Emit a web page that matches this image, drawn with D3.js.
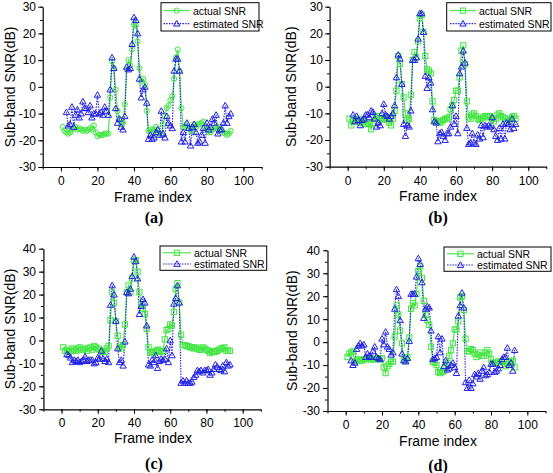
<!DOCTYPE html>
<html><head><meta charset="utf-8">
<script src="https://cdn.jsdelivr.net/npm/d3@7"></script>
<style>body{margin:0;background:#fff}svg{display:block}</style>
</head><body>
<script>
const frames = [1,2,3,4,5,6,7,8,9,10,11,12,13,14,15,16,17,18,19,20,21,22,23,24,25,26,27,28,29,30,31,32,33,34,35,36,37,38,39,40,41,42,43,44,45,46,47,48,49,50,51,52,53,54,55,56,57,58,59,60,61,62,63,64,65,66,67,68,69,70,71,72,73,74,75,76,77,78,79,80,81,82,83,84,85,86,87,88,89,90,91,92,93];
const seriesNames = ["actual SNR", "estimated SNR"];
const xTicks = [0,20,40,60,80,100];
const yTicksAB = [-30,-20,-10,0,10,20,30];
const yTicksCD = [-30,-20,-10,0,10,20,30,40];
const panelLabels = ["(a)","(b)","(c)","(d)"];

const actualA = [-15,-16.5,-17,-17.5,-17,-16,-15.5,-15,-16,-15.5, -16,-16.5,-16,-16.5,-16,-15.5,-16,-14.5,-17,-18.5, -18,-18,-18,-17.5,-17.5,-17.5,-4,9.5,7,-1, -9,-12,-14,-13.5,-6.5,6.5,10,8,14,23.5, 23,17,7,2,3,1,-9,-16.5,-16,-17, -16,-15,-17,-17.5,-18,-14,-11,-8,-7,-5, -3.5,3,11,14,6,-8,-15,-15,-14,-15.5, -16,-17,-14,-15,-14,-14,-13.5,-13,-15,-16, -17,-17,-16,-15.5,-15,-16,-15,-16,-17,-17.5, -18,-17.5,-16.5];
const estA = [null,null,-9.5,-14.5,-14,-7.5,-15,-10.5,-8.5,-11.5, -10,-5.5,-8,-8,-9.5,-7,-11.5,-10,-10,-3, -10,-9.5,-10.5,-7.5,-9,-10.5,-1,11,7,-8, -13.5,-12,-15,-16,-11,7.5,6.5,7,16,26, 25,20,3,-4,-1,0,-6,-19.5,-18,-19.5, -19,-17,-16,-18,-9,-17.5,-19,-11,-13.5,-14.5, -15.5,6,10.5,10.5,6,-20.5,-17,-20.5,-13.5,-15.5, -22,-15,-14,-17,-21,-20.5,-18,-15.5,-21,-13.5, -16,-15,-12,-13.5,-10.5,-17.5,-16,-16,-13.5,-7, -13.5,-11,-10];
const actualB = [-12,-14.5,-13,-13,-12.5,-12,-13.5,-13,-13,-14, -13.5,-14,-16,-13.5,-11.5,-11,-11,-12,-12,-12.5, -11.5,-12,-13.5,-14.5,-12,-9,-1.5,11.5,8.5,1, -4,-10,-12.5,-12,-3,10,13,11,17,25.5, 27,20.5,11.5,6.5,6,5,-5.5,-12.5,-13,-13, -13.5,-13,-12.5,-12,-12,-11.5,-8.5,-7,-5,-1.5, -1.5,3.5,13.5,15.5,8.5,-5.5,-11.5,-12,-10.5,-10, -11,-12,-12.5,-12,-11.5,-11,-11,-11.5,-11,-12, -13,-12,-10.5,-10,-11,-11.5,-12,-13,-12,-12.5, -11.5,-11,-12];
const estB = [null,null,-10.5,-13,-11,-12.5,-14.5,-12.5,-12,-10.5, -10.5,-11.5,-9,-9.5,-12,-15,-13.5,-14.5,-10,-6.5, -10.5,-11,-12,-11,-10,-7,3.5,12,10.5,1, -14,-18.5,-14.5,-15,-9,10,10,11,18,27.5, 27.5,20.5,4,-0.5,3.5,1.5,-8.5,-13,-13.5,-20.5, -17.5,-17,-18.5,-20,-17.5,-17.5,-15,-7,-14,-11, -17.5,5,7.5,13.5,9,-15.5,-21.5,-21,-17.5,-21, -21.5,-18,-19.5,-14.5,-19,-14.5,-15,-14.5,-15,-11.5, -16,-18.5,-20,-15.5,-19.5,-14,-19.5,-13.5,-14,-16, -12,-15.5,-14];
const actualC = [-3,-4.5,-4,-5,-4.5,-3.5,-4,-4.5,-3.5,-3, -4,-4,-3.5,-4.5,-3.5,-3,-4,-2.5,-3,-3.5, -4,-5,-4.5,-5,-3.5,-2.5,9,21,16.5,8.5, 2,-3,-3.5,-2,7,21,24,21,27,34.5, 35,30,21,16,14,11.5,5,-3,-5,-5.5, -5,-4.5,-4,-4.5,-5,-4.5,0.5,4.5,5,7, 6.5,12.5,22.5,25,16.5,2.5,-2,-2,-2.5,-2.5, -3,-3,-3.5,-3,-3.5,-4,-4,-3,-3.5,-4, -4.5,-5.5,-5,-4.5,-5,-4.5,-4,-3.5,-3.5,-3, -4.5,-4.5,-4.5];
const estC = [null,null,-6,-6.5,-7.5,-9.5,-8.5,-9,-8.5,-9.5, -9,-8.5,-7,-9,-8.5,-8.5,-8.5,-10,-9.5,-7.5, -8,-4.5,-8,-9,-8,-9.5,15.5,24,20,8.5, -3.5,-9.5,-8.5,-11,-0.5,21,20.5,22.5,28,36.5, 34.5,27,11.5,15,18,16.5,6.5,-10.5,-11,-8.5, -9.5,-6.5,-12,-9,-8,-8.5,-8,-3.5,-9.5,0, -6.5,16,18.5,24,16.5,-18.5,-17.5,-18.5,-17.5,-18.5, -18.5,-18,-16,-15,-13,-13.5,-13,-14,-13,-13, -12.5,-15,-14,-12.5,-10.5,-11.5,-12.5,-13,-11,-13.5, -9.5,-11,-10.5];
const actualD = [-6.5,-5,-4.5,-4,-8.5,-8,-7.5,-8,-8,-7.5, -7.5,-7,-7,-7.5,-7.5,-7.5,-7,-7.5,-7,-7, -11,-13.5,-10.5,-9.5,-8.5,-8.5,2.5,16,12,5, -0.5,-7.5,-8,-6.5,2,14.5,17,16,21,31, 33,28,18,12,9.5,7.5,-2,-8.5,-9,-10, -13,-13.5,-13,-12.5,-11,-9,-6,-3.5,-0.5,5.5, 5.5,9,19.5,20,14,1.5,-4,-4,-3,-3.5, -5,-6.5,-5.5,-4.5,-6,-6,-4.5,-3.5,-5,-7.5, -9,-9.5,-9,-8.5,-8.5,-8.5,-8.5,-10.5,-9.5,-8.5, -8.5,-8,-11];
const estD = [null,null,-8,-10,-9,-3,-1.5,-0.5,-1.5,-1, -6.5,-5,-6,-6.5,-4,-2,-6.5,-7,-7.5,1.5, -1,4.5,-2,-3,-5.5,-4.5,14.5,23,20,9.5, -5,-8,-8.5,-7,0.5,21,21,21,28.5,36.5, 34,26,10.5,14.5,15.5,15,5,-7.5,-7,-6.5, 2.5,-4.5,1.5,-10.5,-8,-12,-11.5,-10,-9,-11, -13.5,11.5,16,21.5,15,-17.5,-20,-16.5,-20,-18, -14,-15,-13.5,-16,-12.5,-11,-14.5,-14,-13,-9.5, -9.5,-13,-12.5,-11.5,-10,-7.5,-6.5,-6.5,-2.5,-10, -9,-12.5,-3.5];

const GREEN = "#3ee63e", BLUE = "#1f1fe6";
const W = 553, H = 473;
const svg = d3.select("body").append("svg").attr("width", W).attr("height", H)
  .style("font-family", "'Liberation Sans', Arial, sans-serif");

const panels = [
  {actual: actualA, est: estA, yDom:[-30,30], yTicks: yTicksAB, x0:42.7, x1:261.7, yTop:6.7, yBot:167, marker:"circle",
   leg:{x:161,y:2.7,w:98,h:28.3, lx0:163.5, lx1:190, tx:193}, titleX:10, lblRight:36, fx:153, fy:197, px:154, py:217, label:panelLabels[0]},
  {actual: actualB, est: estB, yDom:[-30,30], yTicks: yTicksAB, x0:329.6, x1:546.3, yTop:6.7, yBot:166.7, marker:"square",
   leg:{x:446.7,y:2.7,w:104.3,h:28.3, lx0:450,lx1:476, tx:479}, titleX:291, lblRight:323, fx:438, fy:196, px:438, py:217, label:panelLabels[1]},
  {actual: actualC, est: estC, yDom:[-30,40], yTicks: yTicksCD, x0:43.4, x1:260.8, yTop:248.7, yBot:409.3, marker:"square",
   leg:{x:160,y:246,w:106.7,h:24.3, lx0:163,lx1:191, tx:194}, titleX:10, lblRight:36, fx:153, fy:438, px:154, py:463, label:panelLabels[2]},
  {actual: actualD, est: estD, yDom:[-30,40], yTicks: yTicksCD, x0:327.5, x1:545.5, yTop:250.3, yBot:411, marker:"square",
   leg:{x:444,y:247,w:107,h:24.3, lx0:447,lx1:474, tx:477}, titleX:292, lblRight:320, fx:438, fy:441, px:438, py:465, label:panelLabels[3]}
];

function drawMarker(g, shape, color, x, y) {
  if (shape === "circle") {
    g.append("circle").attr("cx", x).attr("cy", y).attr("r", 2.6)
      .attr("fill", "none").attr("stroke", color).attr("stroke-width", 1);
  } else if (shape === "square") {
    g.append("rect").attr("x", x-2.6).attr("y", y-2.6).attr("width", 5.2).attr("height", 5.2)
      .attr("fill", "none").attr("stroke", color).attr("stroke-width", 1);
  } else {
    const s = 3.2;
    g.append("path").attr("d", `M${x},${y-s}L${x+s},${y+s*0.75}L${x-s},${y+s*0.75}Z`)
      .attr("fill", "none").attr("stroke", color).attr("stroke-width", 1);
  }
}

panels.forEach(p => {
  const x = d3.scaleLinear().domain([-10, 110]).range([p.x0, p.x1]);
  const y = d3.scaleLinear().domain(p.yDom).range([p.yBot, p.yTop]);
  const g = svg.append("g");

  const yMinor = d3.range(p.yDom[0], p.yDom[1] + 0.1, 5);
  g.append("g").attr("transform", `translate(${p.x0},0)`)
    .call(d3.axisLeft(y).tickValues(yMinor).tickSize(2.5).tickFormat("").tickSizeOuter(0))
    .call(a => a.select(".domain").remove());
  g.append("g").attr("transform", `translate(0,${p.yBot})`)
    .call(d3.axisBottom(x).tickValues([-10,0,10,20,30,40,50,60,70,80,90,100,110]).tickSize(2.5).tickFormat("").tickSizeOuter(0))
    .call(a => a.select(".domain").remove());

  const ya = g.append("g").attr("transform", `translate(${p.x0},0)`)
    .call(d3.axisLeft(y).tickValues(p.yTicks).tickSize(4.5).tickSizeOuter(0).tickPadding(3).tickFormat(d => String(d)));
  ya.selectAll("text").attr("font-size", 12).attr("fill", "#000").attr("x", p.lblRight - p.x0);
  const xa = g.append("g").attr("transform", `translate(0,${p.yBot})`)
    .call(d3.axisBottom(x).tickValues(xTicks).tickSize(4.5).tickSizeOuter(0).tickPadding(5).tickFormat(d => String(d)));
  xa.selectAll("text").attr("font-size", 12).attr("fill", "#000");
  [ya, xa].forEach(a => {
    a.attr("font-family", null);
    a.select(".domain").attr("stroke", "#000").attr("stroke-width", 1.2);
    a.selectAll(".tick line").attr("stroke", "#000");
  });

  g.append("text").attr("transform", `translate(${p.titleX},${(p.yTop + p.yBot)/2}) rotate(-90)`)
    .attr("text-anchor", "middle").attr("dominant-baseline", "central").attr("font-size", 14).text("Sub-band SNR(dB)");
  g.append("text").attr("x", p.fx).attr("y", p.fy).attr("text-anchor", "middle").attr("dominant-baseline", "central")
    .attr("font-size", 14).text("Frame index");
  g.append("text").attr("x", p.px).attr("y", p.py).attr("text-anchor", "middle").attr("dominant-baseline", "central")
    .attr("font-size", 16).attr("font-weight", "bold").attr("font-family", "'Liberation Serif', 'Times New Roman', serif")
    .text(p.label);

  const actualPts = frames.map((f, i) => ({f, v: p.actual[i]}));
  const estPts = frames.map((f, i) => ({f, v: p.est[i]}));
  const line = d3.line().defined(d => d.v != null).x(d => x(d.f)).y(d => y(d.v));

  g.append("path").datum(actualPts).attr("d", line).attr("fill", "none")
    .attr("stroke", GREEN).attr("stroke-width", 1.1);
  g.append("path").datum(estPts).attr("d", line).attr("fill", "none")
    .attr("stroke", BLUE).attr("stroke-width", 1.1).attr("stroke-dasharray", "1.5,1.2");

  const mg = g.append("g");
  actualPts.filter(d => d.v != null).forEach(d => drawMarker(mg, p.marker, GREEN, x(d.f), y(d.v)));
  estPts.filter(d => d.v != null).forEach(d => drawMarker(mg, "triangle", BLUE, x(d.f), y(d.v)));

  const L = p.leg;
  const lg = g.append("g");
  lg.append("rect").attr("x", L.x).attr("y", L.y).attr("width", L.w).attr("height", L.h)
    .attr("fill", "#fff").attr("stroke", "#000").attr("stroke-width", 1);
  const r1 = L.y + L.h * 0.28, r2 = L.y + L.h * 0.74;
  lg.append("line").attr("x1", L.lx0).attr("x2", L.lx1).attr("y1", r1).attr("y2", r1)
    .attr("stroke", GREEN).attr("stroke-width", 1.1);
  drawMarker(lg, p.marker, GREEN, (L.lx0 + L.lx1)/2, r1);
  lg.append("line").attr("x1", L.lx0).attr("x2", L.lx1).attr("y1", r2).attr("y2", r2)
    .attr("stroke", BLUE).attr("stroke-width", 1.1).attr("stroke-dasharray", "1.5,1.2");
  drawMarker(lg, "triangle", BLUE, (L.lx0 + L.lx1)/2, r2);
  lg.append("text").attr("x", L.tx).attr("y", r1).attr("dominant-baseline", "central").attr("font-size", 10.5).text(seriesNames[0]);
  lg.append("text").attr("x", L.tx).attr("y", r2).attr("dominant-baseline", "central").attr("font-size", 10.5).text(seriesNames[1]);
});
</script>
</body></html>
